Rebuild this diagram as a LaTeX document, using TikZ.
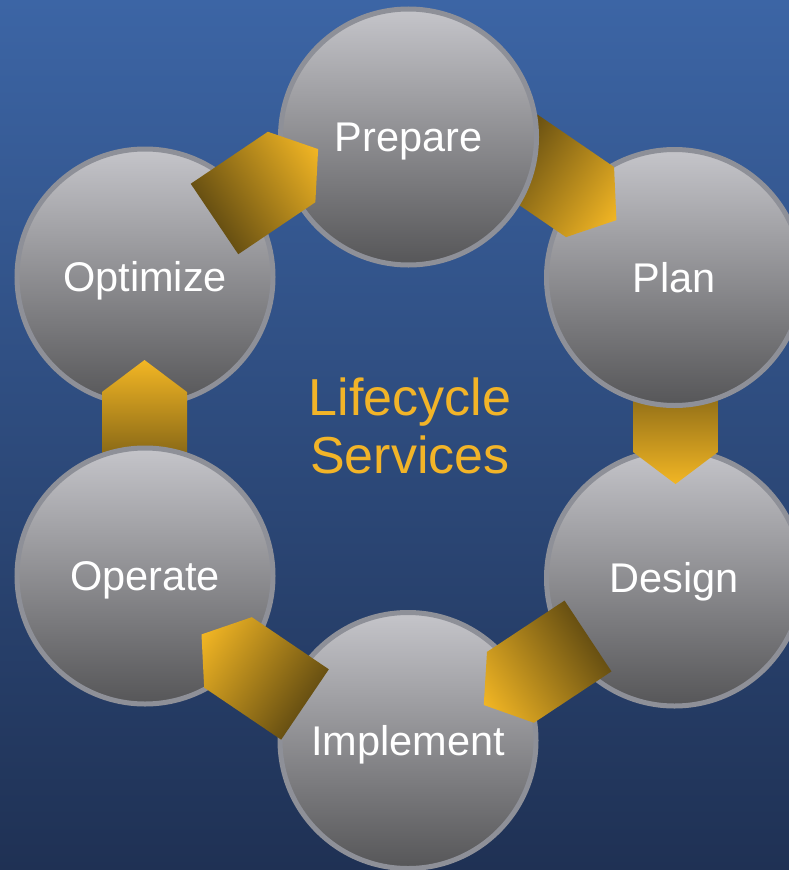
\documentclass[tikz,border=0pt]{standalone}
\usepackage{fontspec}
\setmainfont{Liberation Sans}
\definecolor{bgtop}{RGB}{60,101,165}
\definecolor{bgbot}{RGB}{31,49,84}
\definecolor{ringc}{RGB}{142,144,152}
\definecolor{ctop}{RGB}{197,197,202}
\definecolor{cmid}{RGB}{164,164,167}
\definecolor{cbot}{RGB}{86,86,88}
\definecolor{agold}{RGB}{242,182,36}
\definecolor{adark}{RGB}{104,80,18}
\definecolor{lctext}{RGB}{242,180,40}
\tikzset{
  phase/.style={circle, draw=ringc, line width=5pt, minimum size=256pt, inner sep=0pt,
    top color=ctop, middle color=cmid, bottom color=cbot, text=white,
    font=\fontsize{41.5}{49}\selectfont, text height=29.5pt, text depth=0pt},
  chevron/.style={left color=adark, right color=agold, draw=none},
}
\newcommand\cyclechevron[3]{%
  \begin{scope}[transform canvas={shift={(#1,#2)},rotate=#3}]
    \shade[chevron] (0,-42.5) -- (93,-42.5) -- (125,0) -- (93,42.5) -- (0,42.5) -- cycle;
  \end{scope}}
\begin{document}
\begin{tikzpicture}[x=1pt,y=-1pt]
  \useasboundingbox (0,0) rectangle (789,870);
  \shade[top color=bgtop, bottom color=bgbot] (0,0) rectangle (789,870);
  % circles and chevrons in stacking order
  \node[phase] (design) at (674.5,578) {Design};
  \node[phase] (implement) at (408,740.5) {Implement};
  \node[phase] (optimize) at (145,277) {Optimize};
  \cyclechevron{588}{636}{213.5}   % design -> implement
  \cyclechevron{675.5}{359}{-90}   % plan -> design
  \node[phase] (plan) at (674.5,277.5) {Plan};
  \cyclechevron{513.3}{149.5}{-34.4} % prepare -> plan
  \node[phase] (prepare) at (408.5,137) {Prepare};
  \cyclechevron{214.5}{219}{34}    % optimize -> prepare
  \cyclechevron{144.5}{485}{90}    % operate -> optimize
  \node[phase] (operate) at (145,576) {Operate};
  \cyclechevron{305}{704.5}{145.9} % implement -> operate
  \node[text=lctext, font=\fontsize{52}{58}\selectfont, align=center, inner sep=0pt] (title) at (410,426) {Lifecycle\\Services};
\end{tikzpicture}
\end{document}
